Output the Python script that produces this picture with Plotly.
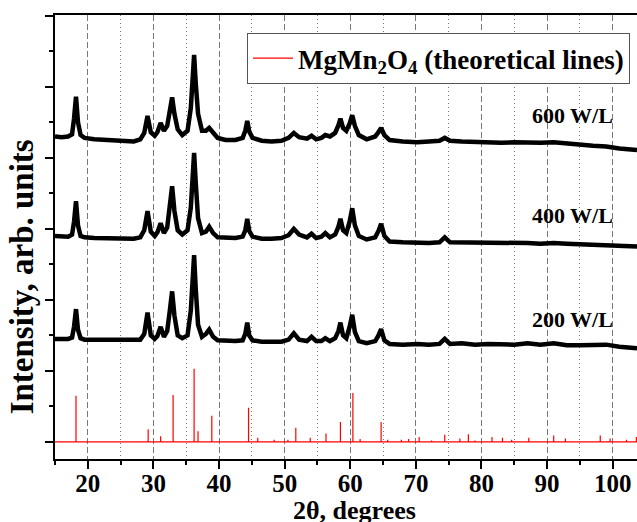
import plotly.graph_objects as go

# ---- data ----
two_theta = [15.0, 16.0, 17.0, 17.6, 17.9, 18.2, 18.5, 18.9, 19.5, 21.0,
             23.0, 25.0, 27.0, 28.0, 28.6, 29.1, 29.6, 30.2, 30.6, 31.1,
             31.6, 32.1, 32.5, 32.85, 33.2, 33.7, 34.4, 35.2, 35.7, 36.0,
             36.2, 36.45, 36.8, 37.4, 38.0, 38.5, 39.1, 39.8, 41.0, 42.5,
             43.6, 44.0, 44.3, 44.6, 45.1, 46.5, 48.0, 49.5, 50.6, 51.4,
             52.2, 53.4, 54.1, 54.8, 55.6, 56.2, 56.9, 57.7, 58.2, 58.5,
             58.9, 59.4, 59.9, 60.3, 60.7, 61.3, 62.5, 63.8, 64.3, 64.7,
             65.2, 66.0, 68.0, 70.2, 72.0, 73.6, 74.4, 75.2, 77.0, 79.0,
             81.0, 83.0, 85.0, 87.0, 89.0, 91.0, 93.0, 95.0, 97.0, 99.0,
             101.0, 103.7]

int_600 = [4.30, 4.29, 4.30, 4.33, 4.55, 4.86, 4.50, 4.32, 4.28, 4.26,
           4.25, 4.24, 4.23, 4.26, 4.35, 4.59, 4.36, 4.31, 4.36, 4.49,
           4.38, 4.45, 4.65, 4.85, 4.62, 4.40, 4.32, 4.38, 4.70, 5.20,
           5.45, 5.05, 4.62, 4.38, 4.38, 4.42, 4.36, 4.28, 4.25, 4.25,
           4.28, 4.38, 4.52, 4.37, 4.28, 4.24, 4.23, 4.24, 4.28, 4.35,
           4.29, 4.27, 4.31, 4.26, 4.28, 4.32, 4.30, 4.35, 4.46, 4.55,
           4.42, 4.38, 4.48, 4.60, 4.45, 4.32, 4.26, 4.30, 4.36, 4.42,
           4.32, 4.25, 4.23, 4.22, 4.23, 4.24, 4.28, 4.24, 4.23, 4.22,
           4.22, 4.21, 4.22, 4.21, 4.21, 4.22, 4.20, 4.18, 4.17, 4.16,
           4.13, 4.11]

int_400 = [2.90, 2.89, 2.89, 2.92, 3.10, 3.39, 3.05, 2.90, 2.88, 2.87,
           2.87, 2.86, 2.86, 2.88, 2.98, 3.25, 2.96, 2.90, 2.95, 3.08,
           2.94, 3.02, 3.30, 3.60, 3.25, 2.98, 2.92, 2.98, 3.30, 3.80,
           4.07, 3.65, 3.15, 2.94, 2.96, 3.03, 2.94, 2.88, 2.87, 2.87,
           2.89, 2.98, 3.14, 2.97, 2.89, 2.86, 2.86, 2.87, 2.91, 3.00,
           2.92, 2.88, 2.93, 2.87, 2.89, 2.94, 2.88, 2.92, 3.03, 3.14,
           2.98, 2.94, 3.10, 3.29, 3.05, 2.90, 2.85, 2.88, 2.97, 3.07,
           2.90, 2.82, 2.81, 2.80, 2.80, 2.81, 2.88, 2.81, 2.81, 2.80,
           2.80, 2.80, 2.80, 2.80, 2.79, 2.80, 2.79, 2.78, 2.77, 2.77,
           2.76, 2.75]

int_200 = [1.45, 1.45, 1.45, 1.47, 1.62, 1.87, 1.58, 1.46, 1.44, 1.44,
           1.44, 1.43, 1.43, 1.44, 1.52, 1.82, 1.50, 1.45, 1.49, 1.62,
           1.48, 1.56, 1.85, 2.12, 1.78, 1.50, 1.46, 1.50, 1.85, 2.40,
           2.63, 2.15, 1.65, 1.48, 1.52, 1.58, 1.48, 1.43, 1.42, 1.42,
           1.43, 1.52, 1.68, 1.50, 1.43, 1.41, 1.41, 1.41, 1.44, 1.53,
           1.44, 1.42, 1.48, 1.42, 1.42, 1.46, 1.42, 1.46, 1.56, 1.68,
           1.50, 1.46, 1.62, 1.79, 1.55, 1.42, 1.39, 1.42, 1.50, 1.59,
           1.43, 1.38, 1.37, 1.38, 1.37, 1.38, 1.45, 1.38, 1.39, 1.37,
           1.38, 1.37, 1.37, 1.39, 1.37, 1.39, 1.36, 1.36, 1.36, 1.37,
           1.34, 1.32]

# theoretical MgMn2O4 lines
line_pos = [18.2, 29.2, 31.1, 33.0, 36.2, 36.8, 38.9, 44.5, 45.9, 48.4,
            50.5, 51.7, 53.9, 56.3, 58.5, 60.4, 61.5, 64.7, 65.7, 67.8,
            68.9, 70.5, 72.4, 74.4, 76.7, 78.0, 79.0, 81.6, 83.2, 84.6,
            87.2, 91.0, 92.8, 98.1, 99.6, 102.1, 103.6]
line_int = [0.65, 0.18, 0.08, 0.66, 1.03, 0.15, 0.37, 0.48, 0.06, 0.03,
            0.03, 0.20, 0.06, 0.12, 0.28, 0.69, 0.04, 0.28, 0.03, 0.03,
            0.04, 0.07, 0.02, 0.10, 0.05, 0.11, 0.02, 0.07, 0.06, 0.03,
            0.06, 0.09, 0.05, 0.09, 0.05, 0.03, 0.07]

labels = ["600 W/L", "400 W/L", "200 W/L"]
label_x = [93.9, 93.9, 93.9]
label_y = [4.60, 3.19, 1.73]

x_range = [15, 103.7]
y_range = [-0.24, 6.01]

# ---- build figure ----
FONT = "Liberation Serif, Times New Roman, serif"
fig = go.Figure()

# stick pattern: baseline with vertical lines at each theoretical position
sx, sy = [x_range[0]], [0]
for p, h in zip(line_pos, line_int):
    sx += [p, p, p]
    sy += [0, h, 0]
sx.append(x_range[1])
sy.append(0)
fig.add_trace(go.Scatter(
    x=sx, y=sy, mode="lines",
    line=dict(color="#ff0000", width=1.2),
    name="MgMn<sub>2</sub>O<sub>4</sub> (theoretical lines)",
    showlegend=True))

for ys in (int_600, int_400, int_200):
    fig.add_trace(go.Scatter(
        x=two_theta, y=ys, mode="lines",
        line=dict(color="black", width=4.5),
        showlegend=False, hoverinfo="skip"))

for t, lx, ly in zip(labels, label_x, label_y):
    fig.add_annotation(x=lx, y=ly, text=t, showarrow=False,
                       font=dict(family=FONT, size=22, color="black", weight="bold"),
                       xanchor="center", yanchor="middle")

# axis titles as paper-anchored annotations
fig.add_annotation(xref="paper", yref="paper", x=0.514, y=-0.115,
                   text="2θ, degrees", showarrow=False,
                   xanchor="center", yanchor="middle",
                   font=dict(family=FONT, size=26, color="black", weight="bold"))
fig.add_annotation(xref="paper", yref="paper", x=-0.056, y=0.41,
                   text="Intensity, arb. units", showarrow=False, textangle=-90,
                   xanchor="center", yanchor="middle",
                   font=dict(family=FONT, size=33, color="black", weight="bold"))

fig.update_layout(
    width=637, height=522,
    margin=dict(l=55, r=0, t=15, b=63, autoexpand=False),
    paper_bgcolor="white", plot_bgcolor="white",
    font=dict(family=FONT, color="black"),
    legend=dict(
        x=0.988, y=0.9595, xanchor="right", yanchor="top",
        bgcolor="white", bordercolor="#555555", borderwidth=1,
        font=dict(family=FONT, size=27, color="black", weight="bold"),
        itemwidth=40),
)

fig.update_xaxes(
    range=x_range, tick0=0, dtick=10, automargin=False,
    showline=True, linecolor="black", linewidth=2, mirror=True,
    ticks="outside", ticklen=8, tickwidth=1.5, tickcolor="black",
    ticklabelstandoff=-7,
    tickfont=dict(family=FONT, size=25, color="black", weight="bold"),
    showgrid=True, gridcolor="#777777", gridwidth=1, griddash="6px,3px",
    zeroline=False,
    minor=dict(dtick=5, tick0=0, ticks="outside", ticklen=4, tickwidth=1.5,
               tickcolor="black", showgrid=True, gridcolor="#777777",
               gridwidth=1, griddash="1px,3px"),
)

fig.update_yaxes(
    range=y_range, tick0=0, dtick=1, automargin=False,
    showline=True, linecolor="black", linewidth=2, mirror=False,
    ticks="outside", ticklen=8, tickwidth=1.5, tickcolor="black",
    showticklabels=False, showgrid=False, zeroline=False,
    minor=dict(dtick=0.5, tick0=0, ticks="outside", ticklen=4, tickwidth=1.5,
               tickcolor="black", showgrid=False),
)

fig.write_html("out.html", config={"displayModeBar": False},
               post_script="document.body.style.margin='0';document.body.style.padding='0';")
